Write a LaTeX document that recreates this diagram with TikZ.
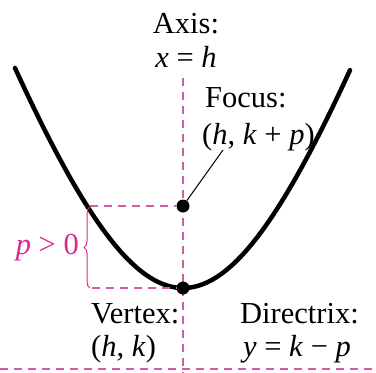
\documentclass[tikz,border=0pt]{standalone}
\usepackage{fontspec}
\setmainfont{Liberation Serif}
\usetikzlibrary{decorations.pathreplacing}
\definecolor{pinktext}{RGB}{220,40,140}
\definecolor{pinkdash}{RGB}{205,95,170}
\newcommand{\vi}[1]{\textit{#1}}
\tikzset{
  lbl/.style={inner sep=0pt, font=\fontsize{30.5}{34}\selectfont},
  guide/.style={pinkdash, line width=1.1pt, dash pattern=on 8pt off 6pt},
  curve/.style={line width=4.5pt, line cap=round},
  dotmark/.style={circle, fill=black, inner sep=0pt, minimum size=13pt}
}
\begin{document}
\begin{tikzpicture}[x=1pt,y=-1pt]
\useasboundingbox (0,0) rectangle (376,373);
% axis and directrix
\coordinate (axtop) at (183,78);
\coordinate (axbot) at (183,373);
\coordinate (dl) at (0,369);
\coordinate (dr) at (376,369);
\draw[guide] (axtop) -- (axbot);
\draw[guide] (dl) -- (dr);
% parabola
\draw[curve] plot[domain=-16.8:16.7, samples=120, smooth] ({183+10*\x},{288-29.25*(sqrt(225+\x*\x)-15)});
% points
\node[dotmark] (F) at (183,206) {};
\node[dotmark] (V) at (183,288) {};
% horizontal guides
\coordinate (fl) at (90,206);
\coordinate (vl) at (92,288);
\draw[guide] (fl) -- (F);
\draw[guide] (vl) -- (V);
% brace
\coordinate (bt) at (90,207);
\coordinate (bb) at (90,288);
\draw[pinktext, line width=1pt, decorate, decoration={brace, amplitude=6pt}] (bb) -- (bt);
\node[lbl, text=pinktext, anchor=base east] (pgt) at (79,254) {\vi{p} > 0};
% labels
\node[lbl, anchor=base] (axis1) at (186,33) {Axis:};
\node[lbl, anchor=base] (axis2) at (186,67) {\vi{x} = \vi{h}};
\node[lbl, anchor=base west] (foc1) at (205,107) {Focus:};
\node[lbl, anchor=base west] (foc2) at (202,144) {(\vi{h}, \vi{k} + \vi{p})};
\node[lbl, anchor=base west] (ver1) at (91,323) {Vertex:};
\node[lbl, anchor=base west] (ver2) at (91,356) {(\vi{h}, \vi{k})};
\node[lbl, anchor=base west] (dir1) at (240,323) {Directrix:};
\node[lbl, anchor=base west] (dir2) at (243,356) {\vi{y} = \vi{k} − \vi{p}};
% leader
\coordinate (lead) at (223,150);
\draw[line width=1pt] (lead) -- (F);
\end{tikzpicture}
\end{document}
